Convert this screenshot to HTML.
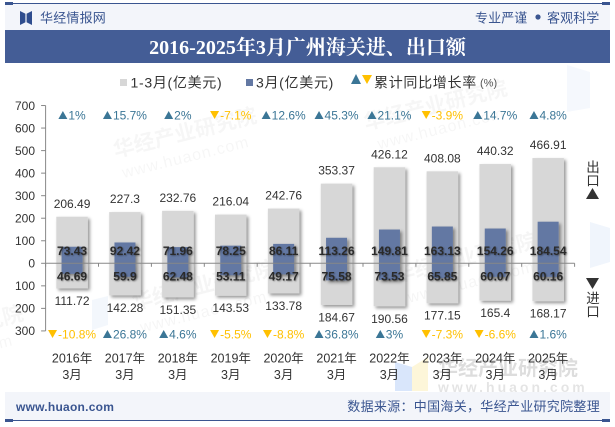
<!DOCTYPE html>
<html lang="zh">
<head>
<meta charset="utf-8">
<title>2016-2025年3月广州海关进、出口额</title>
<style>
html,body{margin:0;padding:0;background:#fff;}
body{width:615px;height:427px;overflow:hidden;position:relative;}
svg{position:absolute;left:0;top:0;display:block;}
text{font-family:"Liberation Sans","Noto Sans CJK SC",sans-serif;}
</style>
</head>
<body>
<svg id="chart" width="615" height="427" viewBox="0 0 615 427" xmlns="http://www.w3.org/2000/svg">
  <defs>
    <filter id="barShadow" x="-30%" y="-30%" width="170%" height="170%">
      <feDropShadow dx="2" dy="2" stdDeviation="1.6" flood-color="#000" flood-opacity="0.42"/>
    </filter>
    <filter id="textShadow" filterUnits="userSpaceOnUse" x="0" y="0" width="615" height="427">
      <feDropShadow dx="0.8" dy="0.8" stdDeviation="0.7" flood-color="#000" flood-opacity="0.4"/>
    </filter>
  </defs>

  <g id="watermarks">
    <g transform="rotate(-14 185 135)" opacity="0.03">
      <text x="112" y="140" font-size="21" font-weight="700" fill="#000">华经产业研究院</text>
      <text x="115" y="162" font-size="16" fill="#000" letter-spacing="1">www.huaon.com</text>
    </g>
    <g transform="rotate(-14 437 105)" opacity="0.03">
      <text x="362" y="112" font-size="21" font-weight="700" fill="#000">华经产业研究院</text>
      <text x="370" y="134" font-size="16" fill="#000" letter-spacing="1">www.huaon.com</text>
    </g>
    <g transform="rotate(-14 205 285)" opacity="0.035">
      <text x="130" y="292" font-size="21" font-weight="700" fill="#000">华经产业研究院</text>
      <text x="132" y="316" font-size="16" fill="#000" letter-spacing="1">www.huaon.com</text>
    </g>
    <g transform="rotate(-14 465 258)" opacity="0.035">
      <text x="392" y="265" font-size="21" font-weight="700" fill="#000">华经产业研究院</text>
      <text x="400" y="288" font-size="16" fill="#000" letter-spacing="1">www.huaon.com</text>
    </g>
    <g transform="rotate(-14 -50 330)" opacity="0.03">
      <text x="-122" y="338" font-size="21" font-weight="700" fill="#000">华经产业研究院</text>
      <text x="-122" y="360" font-size="16" fill="#000" letter-spacing="1">www.huaon.com</text>
    </g>
    <polygon points="395,362 412,367 412,391 395,391" fill="#cfe0fa" opacity="0.8"/>
    <polygon points="412,367 428,357 428,391 412,391" fill="#fdf4cf" opacity="0.8"/>
    <text x="438" y="375" font-size="20" font-weight="700" fill="#000" opacity="0.13">华经产业研究院</text>
    <text x="438" y="392" font-size="14" font-weight="700" fill="#000" opacity="0.1" letter-spacing="3">www.huaon.com</text>
    <polygon points="590,222 610,228 610,262 590,268" fill="#eaf1fb" opacity="0.7"/>
    <polygon points="567,65 590,72 590,108 567,112" fill="#eef4fb" opacity="0.6"/>
    <polygon points="92,300 108,296 108,325 92,330" fill="#eef4fb" opacity="0.7"/>
  </g>

  <rect x="5" y="3" width="605" height="27" fill="#f3f5fa"/>
  <rect x="5" y="3" width="605" height="1" fill="#3a5590"/>
  <rect x="5" y="2" width="8" height="3" fill="#3a5590"/>
  <rect x="602" y="2" width="8" height="3" fill="#3a5590"/>
  <g>
    <polygon points="20,11 26,14 26,22 20,25" fill="#2f4d8e"/>
    <polygon points="32,11 26,14 26,22 32,25" fill="#2f4d8e"/>
    <rect x="25.4" y="12" width="1.2" height="11" fill="#f3f5fa"/>
  </g>
  <text x="40" y="22.5" font-size="13" fill="#3a5590" letter-spacing="0.2">华经情报网</text>
  <text x="475" y="22.5" font-size="13" fill="#3a5590" letter-spacing="0.1">专业严谨</text>
  <circle cx="538" cy="17" r="2.6" fill="#3a5590"/>
  <text x="547" y="22.5" font-size="13" fill="#3a5590" letter-spacing="0.1">客观科学</text>

  <rect x="5" y="30" width="605" height="33" fill="#445d96"/>
  <text x="307.5" y="54" text-anchor="middle" font-size="20" font-weight="700" fill="#fff" style="font-family:'Liberation Serif','Noto Serif CJK SC',serif">2016-2025年3月广州海关进、出口额</text>

  <g>
    <rect x="120" y="79" width="7" height="7" fill="#d7d7d7"/>
    <text x="130.5" y="87.5" font-size="14" fill="#333" letter-spacing="0.7">1-3月(亿美元)</text>
    <rect x="246" y="79" width="7" height="7" fill="#6378a3"/>
    <text x="256" y="87.5" font-size="14" fill="#333" letter-spacing="0.7">3月(亿美元)</text>
    <polygon points="351,84 361,84 356,74" fill="#3b7696"/>
    <polygon points="362,75 372,75 367,84" fill="#ffc000"/>
    <text x="374" y="87.5" font-size="14" fill="#333" letter-spacing="0.7">累计同比增长率</text>
    <text x="480" y="86.5" font-size="11" fill="#555">(%)</text>
  </g>

  <g id="bars"></g>
  <g id="axes"></g>
  <g id="labels"></g>

  <g>
    <text x="593" y="172" text-anchor="middle" font-size="13.5" fill="#333">出</text>
    <text x="593" y="185.5" text-anchor="middle" font-size="13.5" fill="#333">口</text>
    <polygon points="586,199 599,199 592.5,188" fill="#333"/>
  </g>
  <g>
    <polygon points="586,278 599,278 592.5,289" fill="#333"/>
    <text x="593" y="303" text-anchor="middle" font-size="13.5" fill="#333">进</text>
    <text x="593" y="316.5" text-anchor="middle" font-size="13.5" fill="#333">口</text>
  </g>

  <rect x="5" y="392" width="605" height="28" fill="#f3f5fa"/>
  <rect x="5" y="420" width="605" height="1" fill="#3a5590"/>
  <rect x="5" y="419" width="8" height="3" fill="#3a5590"/>
  <rect x="602" y="419" width="8" height="3" fill="#3a5590"/>
  <text x="16" y="411" font-size="12" font-weight="700" fill="#3a5590" letter-spacing="0.25">www.huaon.com</text>
  <text x="600" y="411" text-anchor="end" font-size="13" fill="#3a5590" letter-spacing="0.3">数据来源：中国海关，华经产业研究院整理</text>
</svg>

<script>
var categories = ["2016年", "2017年", "2018年", "2019年", "2020年", "2021年", "2022年", "2023年", "2024年", "2025年"];
var monthLabel = "3月";
var exportTotal = [206.49, 227.3, 232.76, 216.04, 242.76, 353.37, 426.12, 408.08, 440.32, 466.91];
var exportMonth = [73.43, 92.42, 71.96, 78.25, 86.11, 113.26, 149.81, 163.13, 154.26, 184.54];
var importTotal = [111.72, 142.28, 151.35, 143.53, 133.78, 184.67, 190.56, 177.15, 165.4, 168.17];
var importMonth = [46.69, 59.9, 62.48, 53.11, 49.17, 75.58, 73.53, 65.85, 60.07, 60.16];
var exportGrowth = [1, 15.7, 2, -7.1, 12.6, 45.3, 21.1, -3.9, 14.7, 4.8];
var importGrowth = [-10.8, 26.8, 4.6, -5.5, -8.8, 36.8, 3, -7.3, -6.6, 1.6];
var yTickValues = [700, 600, 500, 400, 300, 200, 100, 0, -100, -200, -300];

var NS = "http://www.w3.org/2000/svg";
var plotLeft = 45.6, plotRight = 574.6, zeroY = 263.3, unitPx = 0.2254;
var upColor = "#3b7696", downColor = "#ffc000";

function yScale(v) { return zeroY - v * unitPx; }
function bandWidth() { return (plotRight - plotLeft) / categories.length; }
function xCenter(i) { return plotLeft + bandWidth() * (i + 0.5); }

function make(tag, parent, attrs) {
  var el = document.createElementNS(NS, tag);
  for (var k in attrs) { el.setAttribute(k, attrs[k]); }
  parent.appendChild(el);
  return el;
}

var axes = document.getElementById("axes");
var bars = document.getElementById("bars");
var labels = document.getElementById("labels");

var yLine = make("line", axes, {x1: plotLeft, x2: plotLeft, y1: yScale(700), y2: yScale(-300), stroke: "#888", "stroke-width": 1});



yTickValues.forEach(function (v) {
  var tick = make("line", axes, {x1: plotLeft - 4.5, x2: plotLeft, y1: yScale(v), y2: yScale(v), stroke: "#888", "stroke-width": 1});
  
  
  var t = make("text", axes, {x: 35, y: yScale(v) + 4.3, "text-anchor": "end", "font-size": 12, fill: "#333"});
  t.textContent = Math.abs(v);
  
  
});

function drawBar(i, top, bottom, width, color, name) {
  var r = make("rect", bars, {x: xCenter(i) - width / 2, y: top, width: width, height: bottom - top, fill: color, filter: "url(#barShadow)"});
  
  
}

function drawLabel(x, y, str, name, extra) {
  var t = make("text", labels, {x: x, y: y, "text-anchor": "middle", "font-size": 12, fill: "#333"});
  t.textContent = str;
  for (var k in extra) { t.setAttribute(k, extra[k]); }
  
  
}

function drawGrowth(i, value, y) {
  var up = value >= 0;
  var color = up ? upColor : downColor;
  var str = value + "%";
  var textW = str.replace(/[^0-9]/g, "").length * 6.67 + (str.indexOf(".") >= 0 ? 3.33 : 0) + (value < 0 ? 4 : 0) + 10.67;
  var total = 10 + textW;
  var left = xCenter(i) - total / 2;
  var pts = up
    ? [[left, y + 4], [left + 9, y + 4], [left + 4.5, y - 4]]
    : [[left, y - 4], [left + 9, y - 4], [left + 4.5, y + 4]];
  var tri = make("polygon", labels, {points: pts.map(function (p) { return p.join(","); }).join(" "), fill: color});
  
  
  var t = make("text", labels, {x: left + 10, y: y + 4.3, "font-size": 12, fill: color});
  t.textContent = str;
  
  
}

categories.forEach(function (c, i) {
  var cx = xCenter(i);
  drawBar(i, yScale(exportTotal[i]), zeroY, 31.5, "#d7d7d7", "bar-export-total");
  drawBar(i, zeroY, yScale(-importTotal[i]), 31.5, "#d7d7d7", "bar-import-total");
});

categories.forEach(function (c, i) {
  var cx = xCenter(i);
  drawBar(i, yScale(exportMonth[i]), zeroY, 21, "#6378a3", "bar-export-month");
  drawBar(i, zeroY, yScale(-importMonth[i]), 21, "#6378a3", "bar-import-month");

  drawLabel(cx, yScale(exportTotal[i]) - 9, exportTotal[i], "label-export-total", {});
  drawLabel(cx, yScale(-importTotal[i]) + 16.5, importTotal[i], "label-import-total", {});
  drawLabel(cx, 255, exportMonth[i], "label-export-month", {"font-weight": 700, fill: "#2a2a2a", filter: "url(#textShadow)"});
  drawLabel(cx, 280.3, importMonth[i], "label-import-month", {"font-weight": 700, fill: "#2a2a2a", filter: "url(#textShadow)"});

  drawGrowth(i, exportGrowth[i], 115);
  drawGrowth(i, importGrowth[i], 334);

  drawLabel(cx, 362.5, c, "x-axis-year-label", {"font-size": 12.5});
  drawLabel(cx, 379, monthLabel, "x-axis-month-label", {"font-size": 12.5});
});

var xLine = make("line", axes, {x1: plotLeft, x2: plotRight, y1: zeroY, y2: zeroY, stroke: "#888", "stroke-width": 1});



for (var b = 0; b <= categories.length; b++) {
  var bx = plotLeft + bandWidth() * b;
  var xt = make("line", axes, {x1: bx, x2: bx, y1: zeroY, y2: zeroY + 3.5, stroke: "#888", "stroke-width": 1});
  
  
}
</script>
</body>
</html>
